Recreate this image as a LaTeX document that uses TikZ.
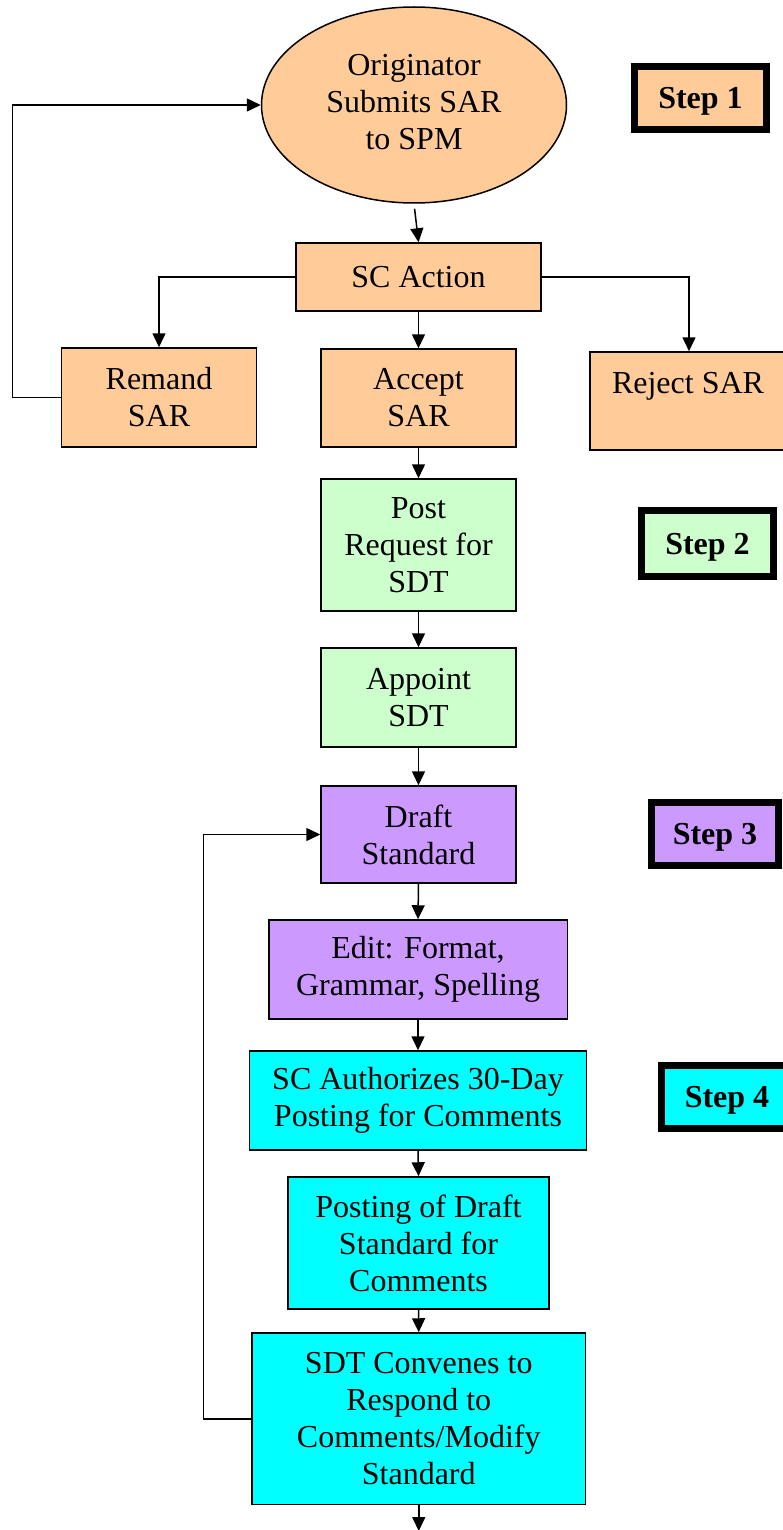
\documentclass[tikz,border=0pt]{standalone}
\usepackage{fontspec}
\setmainfont{Liberation Serif}
\usetikzlibrary{arrows.meta,shapes.geometric}
\definecolor{peach}{HTML}{FFCC99}
\definecolor{mint}{HTML}{CCFFCC}
\definecolor{lilac}{HTML}{CC99FF}
\definecolor{aqua}{HTML}{00FFFF}
\begin{document}
\begin{tikzpicture}[x=1pt,y=-1pt,
  every node/.style={font=\fontsize{32}{37}\selectfont},
  flowbox/.style={draw=black,line width=1.5pt,inner sep=0pt,align=center,rectangle},
  stepbox/.style={draw=black,line width=7pt,inner sep=0pt,align=center,rectangle,text height=21pt,text depth=0pt,font=\fontsize{32}{37}\selectfont\bfseries},
  conn/.style={line width=1.5pt,-{Triangle[length=14pt,width=13pt]}},
  plain/.style={line width=1.5pt}]
\useasboundingbox (0,0) rectangle (782,1530);
\fill[white] (0,0) rectangle (782,1530);
% Step 1
\node[draw=black,line width=1.5pt,fill=peach,ellipse,minimum width=305pt,minimum height=196pt,inner sep=0pt] (orig) at (414,105) {\raisebox{5pt}{\begin{tabular}{@{}c@{}}Originator\\Submits SAR\\to SPM\end{tabular}}};
\node[stepbox,fill=peach,minimum width=132pt,minimum height=63pt] (s1) at (700.5,98) {Step 1};
\node[flowbox,fill=peach,minimum width=245pt,minimum height=68pt] (sc) at (418.5,277) {SC Action};
\node[flowbox,fill=peach,minimum width=195pt,minimum height=99pt] (remand) at (159,397.5) {Remand\\SAR};
\node[flowbox,fill=peach,minimum width=195pt,minimum height=98pt] (accept) at (418.5,398) {Accept\\SAR};
\node[flowbox,fill=peach,minimum width=196pt,minimum height=98pt] (reject) at (688,401) {Reject SAR\\\mbox{}};
% Step 2
\node[flowbox,fill=mint,minimum width=195pt,minimum height=132pt] (post) at (418.5,545) {Post\\Request for\\SDT};
\node[stepbox,fill=mint,minimum width=132pt,minimum height=66pt] (s2) at (707.5,543.5) {Step 2};
\node[flowbox,fill=mint,minimum width=195pt,minimum height=99pt] (appoint) at (418.5,697.5) {Appoint\\SDT};
% Step 3
\node[flowbox,fill=lilac,minimum width=195pt,minimum height=97pt] (draft) at (418.5,834.5) {Draft\\Standard};
\node[stepbox,fill=lilac,minimum width=127pt,minimum height=63pt] (s3) at (715,834) {Step 3};
\node[flowbox,fill=lilac,minimum width=298.5pt,minimum height=99pt] (edit) at (418,969.5) {Edit: Format,\\Grammar, Spelling};
% Step 4
\node[flowbox,fill=aqua,minimum width=337pt,minimum height=99pt] (auth) at (418,1100.5) {SC Authorizes 30-Day\\Posting for Comments};
\node[stepbox,fill=aqua,minimum width=131pt,minimum height=63pt] (s4) at (727,1097) {Step 4};
\node[flowbox,fill=aqua,minimum width=261pt,minimum height=132pt] (posting) at (418.5,1243) {Posting of Draft\\Standard for\\Comments};
\node[flowbox,fill=aqua,minimum width=333.5pt,minimum height=171.5pt] (sdt) at (418.75,1418.75) {SDT Convenes to\\Respond to\\Comments/Modify\\Standard};
\coordinate (end) at (418.75,1531);
% connectors
\draw[conn,shorten <=5pt] (orig.south) -- (sc.north);
\draw[conn] (sc.west) -| (remand.north);
\draw[conn] (sc.south) -- (accept.north);
\draw[conn] (sc.east) -| ([xshift=1pt]reject.north);
\draw[conn] (remand.west) -- ++(-48.5,0) |- (orig.west);
\draw[conn] (accept.south) -- (post.north);
\draw[conn] (post.south) -- (appoint.north);
\draw[conn] (appoint.south) -- (draft.north);
\draw[conn] (draft.south) -- (edit.north);
\draw[conn] (edit.south) -- (auth.north);
\draw[conn] (auth.south) -- (posting.north);
\draw[conn] (posting.south) -- (sdt.north);
\draw[conn] (sdt.south) -- (end);
\draw[conn] (sdt.west) -- ++(-48,0) |- (draft.west);
\end{tikzpicture}
\end{document}
